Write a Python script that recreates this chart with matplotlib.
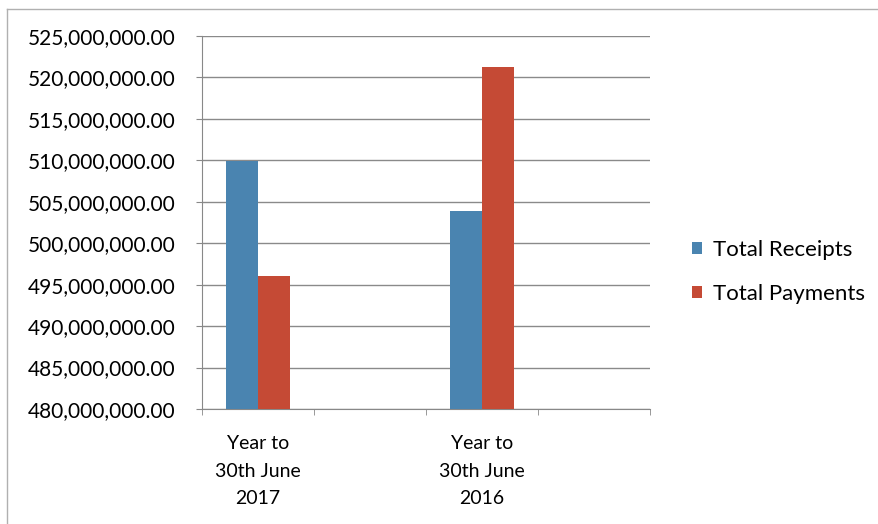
import numpy as np
import matplotlib.pyplot as plt
from matplotlib.ticker import FuncFormatter, FixedLocator
from matplotlib.lines import Line2D

plt.rcParams['font.family'] = ['Lato', 'DejaVu Sans']

categories = ['Year to\n30th June\n2017', '', 'Year to\n30th June\n2016', '']
receipts = [509.9e6, np.nan, 503.9e6, np.nan]
payments = [496.0e6, np.nan, 521.3e6, np.nan]
series_names = ['Total Receipts', 'Total Payments']
colors = ['#4a84b0', '#c54a35']

fig = plt.figure(figsize=(8.79, 5.24), dpi=100)
ax = fig.add_axes([202 / 879, 1 - 409 / 524, 448 / 879, 373 / 524])

x = np.arange(len(categories))
w = 0.286
ax.bar(x - w / 2, receipts, w, color=colors[0], label=series_names[0], zorder=3)
ax.bar(x + w / 2, payments, w, color=colors[1], label=series_names[1], zorder=3)

ax.set_ylim(480e6, 525e6)
ax.set_yticks(np.arange(480e6, 525e6 + 1, 5e6))
ax.yaxis.set_major_formatter(FuncFormatter(lambda v, p: f'{v:,.2f}'))
ax.set_xlim(-0.5, len(categories) - 0.5)
ax.set_xticks(x)
ax.set_xticklabels(categories)
ax.xaxis.set_minor_locator(FixedLocator(np.arange(-0.5, len(categories), 1)))
ax.tick_params(axis='x', which='major', length=0, pad=19, labelsize=14)
ax.tick_params(axis='x', which='minor', length=4, color='#888888')
ax.tick_params(axis='y', length=4, color='#888888', labelsize=15, pad=15)
for lbl in ax.get_xticklabels():
    lbl.set_linespacing(1.75)

ax.grid(axis='y', color='#8a8a8a', linewidth=1, zorder=0)
for s in ['top', 'right']:
    ax.spines[s].set_visible(False)
for s in ['left', 'bottom']:
    ax.spines[s].set_color('#888888')

ax.legend(loc='center left', bbox_to_anchor=(683 / 879, 1 - 272 / 524),
          bbox_transform=fig.transFigure, borderaxespad=0,
          frameon=False, fontsize=16, handlelength=0.45, handleheight=0.45,
          handletextpad=0.5, labelspacing=1.1)

# chart border, only the top and left edges fall inside the picture
fig.add_artist(Line2D([7 / 879, 1], [1 - 9 / 524, 1 - 9 / 524], color='#b0b0b0', lw=1))
fig.add_artist(Line2D([7 / 879, 7 / 879], [0, 1 - 9 / 524], color='#b0b0b0', lw=1))

fig.savefig('out.png', dpi=100)
